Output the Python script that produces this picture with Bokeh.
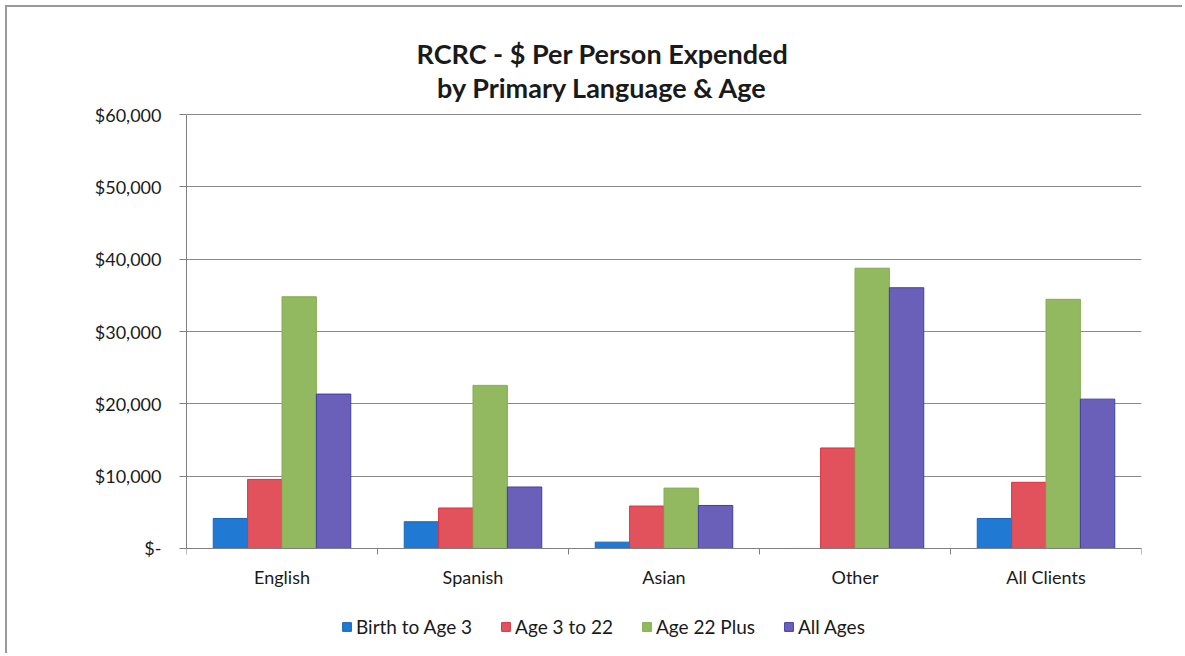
from bokeh.plotting import figure
from bokeh.models import Range1d, FixedTicker, Legend, LegendItem, ColumnDataSource, Label
from bokeh.embed import file_html
from bokeh.resources import INLINE

# ---- data ----
categories = ["English", "Spanish", "Asian", "Other", "All Clients"]
series_names = ["Birth to Age 3", "Age 3 to 22", "Age 22 Plus", "All Ages"]
birth_to_age_3 = [4150, 3700, 880, 0, 4150]
age_3_to_22 = [9550, 5600, 5870, 13900, 9150]
age_22_plus = [34800, 22550, 8350, 38750, 34450]
all_ages = [21350, 8500, 5950, 36050, 20650]
y_ticks = [0, 10000, 20000, 30000, 40000, 50000, 60000]
y_tick_labels = ["$-", "$10,000", "$20,000", "$30,000", "$40,000", "$50,000", "$60,000"]
title_lines = ["RCRC - $ Per Person Expended", "by Primary Language & Age"]

series_values = [birth_to_age_3, age_3_to_22, age_22_plus, all_ages]
fill_colors = ["#2079d2", "#e2525c", "#92b960", "#6a60ba"]
line_colors = ["#1a66bb", "#e0303e", "#86ad52", "#3f3fa6"]
offsets = [-0.27, -0.09, 0.09, 0.27]
bar_w = 0.18

FONT = "Lato"
Y_MAX = 60000
# the frame also holds the title and legend strips; the value axis spans 0..Y_MAX
Y_PAD = 14793

p = figure(width=1177, height=648, output_backend="svg", toolbar_location=None,
           x_range=Range1d(0, len(categories)), y_range=Range1d(-Y_PAD, Y_MAX + Y_PAD),
           min_border_left=179, min_border_right=43, min_border_top=0, min_border_bottom=0,
           outline_line_color=None)
p.title.visible = False

centers = [i + 0.5 for i in range(len(categories))]
renderers = []
for k, vals in enumerate(series_values):
    src = ColumnDataSource(dict(x=[c + offsets[k] for c in centers], top=vals, cat=categories))
    r = p.vbar(x="x", top="top", width=bar_w, bottom=0, source=src,
               fill_color=fill_colors[k], line_color=line_colors[k], line_width=1)
    renderers.append(r)

xa = p.xaxis[0]
xa.fixed_location = 0
xa.ticker = FixedTicker(ticks=centers, minor_ticks=list(range(len(categories) + 1)))
xa.major_label_overrides = {c: cat for c, cat in zip(centers, categories)}
xa.major_tick_line_color = None
xa.major_tick_out = 0
xa.major_tick_in = 0
xa.minor_tick_out = 6
xa.minor_tick_in = 0
xa.minor_tick_line_color = "#7f7f7f"
xa.axis_line_color = "#7f7f7f"
xa.major_label_standoff = 12
xa.major_label_text_font = FONT
xa.major_label_text_font_size = "18px"
xa.major_label_text_color = "#1a1a1a"

ya = p.yaxis[0]
ya.bounds = (0, Y_MAX)
ya.ticker = FixedTicker(ticks=y_ticks)
ya.major_label_overrides = {tk: lb for tk, lb in zip(y_ticks, y_tick_labels)}
ya.major_tick_out = 7
ya.major_tick_in = 0
ya.minor_tick_line_color = None
ya.major_tick_line_color = "#7f7f7f"
ya.axis_line_color = "#7f7f7f"
ya.major_label_standoff = 18
ya.major_label_text_font = FONT
ya.major_label_text_font_size = "18px"
ya.major_label_text_color = "#1a1a1a"

p.xgrid.grid_line_color = None
p.ygrid.grid_line_color = "#8a8a8a"
p.ygrid.grid_line_width = 1

# title: two centred lines in the strip above the value axis
for txt, yv in zip(title_lines, [68433, 63733]):
    p.add_layout(Label(x=2.178, y=yv, text=txt, text_align="center", text_baseline="alphabetic",
                       text_font=FONT, text_font_style="bold", text_font_size="27px",
                       text_color="#1a1a1a"))

legend = Legend(items=[LegendItem(label=n, renderers=[r]) for n, r in zip(series_names, renderers)],
                orientation="horizontal", location=(155, 17),
                glyph_width=11, glyph_height=11, label_standoff=4, spacing=28,
                padding=0, margin=0, border_line_color=None, background_fill_alpha=0,
                label_text_font=FONT, label_text_font_size="19px", label_text_color="#1a1a1a")
p.add_layout(legend, "center")

# chart-area frame: only the top and left edges fall inside the picture
p.styles = {"margin-left": "7px", "margin-top": "7px",
            "box-shadow": "-2px -2px 0 0 #9a9a9a"}

open("out.html", "w").write(file_html(p, INLINE))
